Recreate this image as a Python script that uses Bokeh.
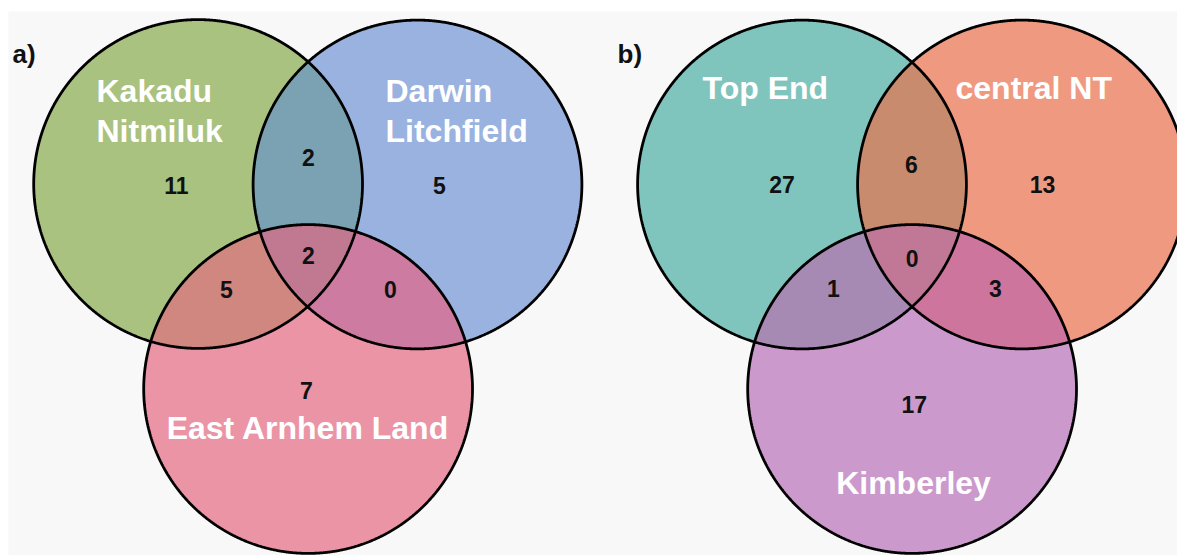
import numpy as np
from bokeh.plotting import figure
from bokeh.models import Range1d
from bokeh.embed import file_html
from bokeh.resources import INLINE
from bokeh.core.properties import value

# ---------------- data ----------------
panel_tags = ["a)", "b)"]
sets_a = ["Kakadu\nNitmiluk", "Darwin\nLitchfield", "East Arnhem Land"]
sets_b = ["Top End", "central NT", "Kimberley"]
region_keys = ["A", "B", "C", "AB", "AC", "BC", "ABC"]
counts_a = [11, 5, 7, 2, 5, 0, 2]
counts_b = [27, 13, 17, 6, 1, 3, 0]

# ---------------- styling / layout ----------------
colors_a = {"A": "#a9c27f", "B": "#99b2df", "C": "#eb94a6", "AB": "#7aa2b2",
            "AC": "#cf877f", "BC": "#cd7ba0", "ABC": "#c17891"}
colors_b = {"A": "#7fc5bd", "B": "#f09981", "C": "#cc99cc", "AB": "#c98b6e",
            "AC": "#a78ab4", "BC": "#ce759d", "ABC": "#c07896"}

R = 164.4
circles_a = [(197.6, 183.5, R), (417.0, 184.0, R), (307.6, 388.5, R)]
circles_b = [(801.5, 184.0, R), (1021.5, 184.0, R), (911.6, 388.5, R)]

# visual centres of the count labels
count_pos_a = {"A": (176, 185), "B": (439, 185), "C": (306, 390), "AB": (308, 157),
               "AC": (226, 288.5), "BC": (390, 288.5), "ABC": (308, 255)}
count_pos_b = {"A": (781.5, 184), "B": (1042, 184), "C": (913.8, 403.5), "AB": (911, 164),
               "AC": (833, 288), "BC": (995, 287.5), "ABC": (911.7, 257.5)}

# set label anchor: (x, centre of first line, align)
label_pos_a = [(96, 90.5, "left"), (385, 90.5, "left"), (307.5, 427, "center")]
label_pos_b = [(702, 87, "left"), (955, 87, "left"), (913, 482, "center")]
tag_pos = [(12, 53), (617, 53)]
LINE_GAP = 40

FONT = value("Liberation Sans")

p = figure(width=1177, height=555, output_backend="svg", toolbar_location=None,
           x_axis_type=None, y_axis_type=None,
           x_range=Range1d(8, 1177), y_range=Range1d(555, 11),
           min_border_left=8, min_border_right=0, min_border_bottom=0, min_border_top=11,
           background_fill_color="#f8f8f8", border_fill_color="#ffffff",
           outline_line_color=None)
p.grid.visible = False


def region_poly(circles, idx):
    pts = []
    t = np.linspace(0, 2 * np.pi, 1440, endpoint=False)
    for i in idx:
        cx, cy, r = circles[i]
        x = cx + r * np.cos(t)
        y = cy + r * np.sin(t)
        mask = np.ones_like(x, dtype=bool)
        for j in idx:
            if j == i:
                continue
            cxj, cyj, rj = circles[j]
            mask &= (x - cxj) ** 2 + (y - cyj) ** 2 <= rj ** 2 + 1e-6
        pts.append(np.c_[x[mask], y[mask]])
    P = np.vstack(pts)
    c = P.mean(axis=0)
    ang = np.arctan2(P[:, 1] - c[1], P[:, 0] - c[0])
    o = np.argsort(ang)
    return list(P[o, 0]), list(P[o, 1])


key_idx = {"A": [0], "B": [1], "C": [2], "AB": [0, 1], "AC": [0, 2], "BC": [1, 2], "ABC": [0, 1, 2]}

panels = [
    (circles_a, colors_a, counts_a, count_pos_a, sets_a, label_pos_a),
    (circles_b, colors_b, counts_b, count_pos_b, sets_b, label_pos_b),
]

for pi, (circles, colors, counts, cpos, names, lpos) in enumerate(panels):
    xs, ys, fills = [], [], []
    for k in region_keys:
        x, y = region_poly(circles, key_idx[k])
        xs.append(x)
        ys.append(y)
        fills.append(colors[k])
    p.patches(xs, ys, fill_color=fills, line_color=None)
    # outlines
    ox, oy = [], []
    for k in ["A", "B", "C"]:
        x, y = region_poly(circles, key_idx[k])
        ox.append(x + [x[0]])
        oy.append(y + [y[0]])
    p.multi_line(ox, oy, line_color="black", line_width=2.8)
    # counts
    p.text(x=[cpos[k][0] for k in region_keys], y=[cpos[k][1] for k in region_keys],
           text=[str(c) for c in counts], text_font=FONT, text_font_style="bold",
           text_font_size="23px", text_color="#111111", text_align="center",
           text_baseline="middle")
    # set labels
    for name, (lx, ly, al) in zip(names, lpos):
        for li, line in enumerate(name.split("\n")):
            p.text(x=[lx], y=[ly + li * LINE_GAP], text=[line], text_font=FONT,
                   text_font_style="bold", text_font_size="32px", text_color="#ffffff",
                   text_align=al, text_baseline="middle")
    # panel tag
    p.text(x=[tag_pos[pi][0]], y=[tag_pos[pi][1]], text=[panel_tags[pi]], text_font=FONT,
           text_font_style="bold", text_font_size="26px", text_color="#111111",
           text_align="left", text_baseline="middle")

open("out.html", "w").write(file_html(p, INLINE))
